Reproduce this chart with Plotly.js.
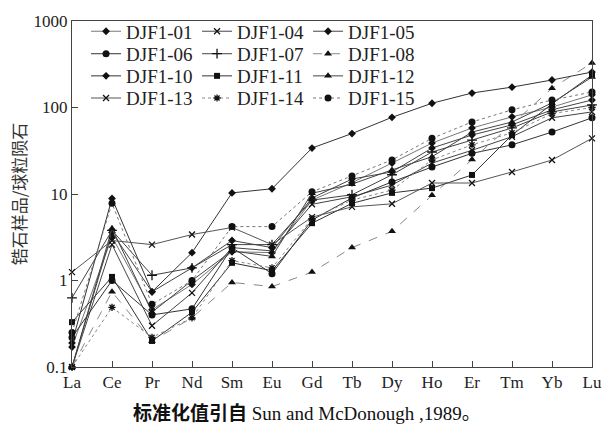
<!DOCTYPE html>
<html>
<head>
<meta charset="utf-8">
<script src="https://cdn.plot.ly/plotly-3.0.1.min.js"></script>
<style>html,body{margin:0;padding:0;background:#fff;}#chart{width:610px;height:430px;}</style>
</head>
<body>
<div id="chart"></div>
<script>
// REE elements (x categories)
const elements = ["La","Ce","Pr","Nd","Sm","Eu","Gd","Tb","Dy","Ho","Er","Tm","Yb","Lu"];
// y tick values / labels
const yTickVals = [0.1, 1, 10, 100, 1000];
const yTickText = ["0.1", "1", "10", "100", "1000"];

// Chondrite-normalised values
const DJF1_01 = [0.17, 3.2, 0.46, 0.9, 2.15, 2.1, 8.5, 13.5, 22.8, 38.8, 58, 78, 101, 140];
const DJF1_04 = [0.1, 2.6, 0.30, 0.72, 2.4, 2.2, 7.6, 9.3, 12.7, 22.8, 32, 46, 76, 89];
const DJF1_05 = [0.1, 3.6, 0.74, 1.4, 2.9, 2.4, 9.0, 14.9, 18.0, 34, 48, 63, 94, 122];
const DJF1_06 = [0.22, 1.0, 0.40, 0.47, 2.4, 1.2, 5.0, 9.0, 13.8, 20.5, 29.5, 37, 52, 76];
const DJF1_07 = [0.63, 3.8, 1.15, 1.4, 2.6, 2.6, 8.5, 9.8, 16.7, 30.6, 42, 58, 89, 107];
const DJF1_08 = [0.1, 0.74, 0.2, 0.37, 0.95, 0.85, 1.25, 2.4, 3.7, 9.7, 25, 64, 167, 327];
const DJF1_10 = [0.19, 8.9, 0.74, 2.1, 10.3, 11.5, 34, 50, 77, 112, 147, 172, 208, 257];
const DJF1_11 = [0.33, 1.1, 0.2, 0.43, 1.6, 1.3, 4.6, 7.8, 10.3, 11.7, 16.6, 48, 110, 237];
const DJF1_12 = [0.1, 4.0, 0.43, 1.0, 2.2, 1.9, 10.2, 13.0, 19, 27, 52, 68, 113, 225];
const DJF1_13 = [1.25, 2.9, 2.6, 3.4, 4.1, 2.6, 5.4, 7.1, 7.7, 13.4, 13.4, 18, 24.7, 44];
const DJF1_14 = [0.1, 0.49, 0.22, 0.37, 1.7, 1.4, 5.2, 8.5, 11.1, 24.8, 37, 51, 85, 100];
const DJF1_15 = [0.25, 7.8, 0.53, 1.0, 4.2, 4.2, 10.6, 16.2, 24.8, 44, 68, 94, 122, 151];

const seriesNames = ["DJF1-01","DJF1-04","DJF1-05","DJF1-06","DJF1-07","DJF1-08",
                     "DJF1-10","DJF1-11","DJF1-12","DJF1-13","DJF1-14","DJF1-15"];
const seriesValues = [DJF1_01, DJF1_04, DJF1_05, DJF1_06, DJF1_07, DJF1_08,
                      DJF1_10, DJF1_11, DJF1_12, DJF1_13, DJF1_14, DJF1_15];

// styles
const symbols = ["diamond","x-thin","diamond","circle","cross-thin","triangle-up",
                 "diamond","square","triangle-up","x-thin","asterisk","circle"];
const sizes = [6, 6, 6, 7, 7, 7, 6, 6, 7, 6, 6, 7];
const lineColors = ["#777","#444","#444","#333","#444","#888","#333","#333","#444","#555","#888","#777"];
const dashes = ["solid","solid","solid","solid","solid","dash","solid","solid","solid","solid","dot","dot"];
const legendIds = ["legend","legend","legend","legend2","legend2","legend2",
                   "legend3","legend3","legend3","legend4","legend4","legend4"];

const traces = seriesNames.map((name, i) => {
  const open = symbols[i].indexOf("thin") >= 0 || symbols[i] === "asterisk";
  return {
    type: "scatter",
    mode: "lines+markers",
    name: name,
    x: elements,
    y: seriesValues[i],
    legend: legendIds[i],
    line: {color: lineColors[i], width: 1, dash: dashes[i]},
    marker: {
      symbol: symbols[i],
      size: sizes[i],
      color: "#111",
      line: {color: "#111", width: open ? 1.3 : 0}
    },
    cliponaxis: false
  };
});

const legendFont = {family: "Liberation Serif, Times New Roman, serif", size: 19, color: "#222"};
function rowLegend(yPaper) {
  return {
    orientation: "h",
    x: 0.027, xanchor: "left",
    y: yPaper, yanchor: "middle",
    bgcolor: "rgba(0,0,0,0)",
    borderwidth: 0,
    font: legendFont,
    entrywidth: 66,
    entrywidthmode: "pixels",
    itemclick: false
  };
}

const layout = {
  width: 610,
  height: 430,
  margin: {l: 72, r: 18, t: 21, b: 63},
  paper_bgcolor: "#fff",
  plot_bgcolor: "#fff",
  font: {family: "Liberation Serif, Times New Roman, serif", size: 17, color: "#222"},
  showlegend: true,
  legend: rowLegend(0.970),
  legend2: rowLegend(0.905),
  legend3: rowLegend(0.841),
  legend4: rowLegend(0.777),
  xaxis: {
    type: "category",
    categoryorder: "array",
    categoryarray: elements,
    range: [0, elements.length - 1],
    showgrid: false,
    zeroline: false,
    showline: true,
    linecolor: "#444",
    linewidth: 1,
    mirror: true,
    ticks: "inside",
    ticklen: 6,
    tickcolor: "#444",
    tickfont: {family: "Liberation Serif, Times New Roman, serif", size: 17, color: "#222"}
  },
  yaxis: {
    type: "log",
    range: [-1, 3],
    showgrid: false,
    zeroline: false,
    showline: true,
    linecolor: "#444",
    linewidth: 1,
    mirror: true,
    ticks: "inside",
    ticklen: 6,
    tickcolor: "#444",
    tickvals: yTickVals,
    ticktext: yTickText,
    tickfont: {family: "Liberation Serif, Times New Roman, serif", size: 17, color: "#222"},
    title: {
      text: "锆石样品/球粒陨石",
      font: {family: "Noto Sans CJK SC, sans-serif", size: 17, color: "#333"},
      standoff: 2
    }
  },
  annotations: [{
    text: "<b>标准化值引自</b> Sun and McDonough ,1989。",
    xref: "paper", yref: "paper",
    x: 0.452, y: -0.135,
    xanchor: "center", yanchor: "middle",
    showarrow: false,
    font: {family: "Liberation Serif, Noto Sans CJK SC, serif", size: 19, color: "#111"}
  }]
};

Plotly.newPlot("chart", traces, layout, {displayModeBar: false, staticPlot: true});
</script>
</body>
</html>
